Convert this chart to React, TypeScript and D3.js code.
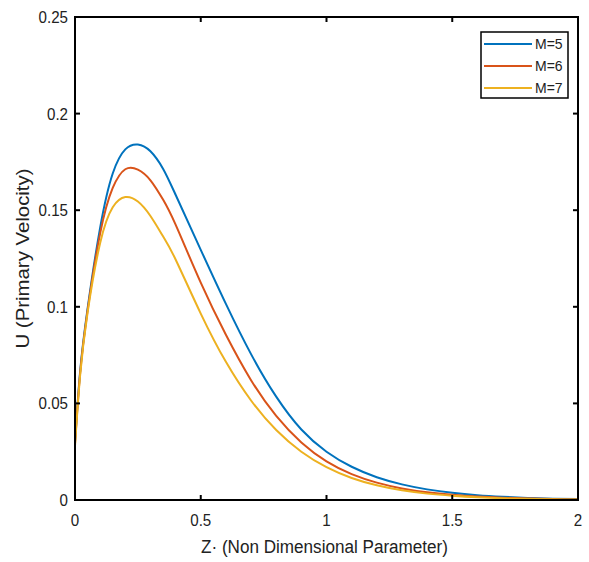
import React from "react";
import * as d3 from "d3";

const zValues = [0, 0.02, 0.05, 0.1, 0.15, 0.2, 0.25, 0.3, 0.35, 0.4, 0.5, 0.6, 0.7, 0.8, 0.9, 1.0, 1.1, 1.2, 1.3, 1.4, 1.5, 1.6, 1.7, 1.8, 1.9, 2.0];
const uM5 = [0.030, 0.066, 0.099, 0.141, 0.169, 0.1815, 0.184, 0.1805, 0.1715, 0.158, 0.1295, 0.1015, 0.0755, 0.0535, 0.0365, 0.025, 0.0172, 0.0118, 0.0081, 0.0055, 0.0037, 0.0025, 0.0017, 0.0011, 0.0007, 0.0005];
const uM6 = [0.029, 0.065, 0.098, 0.138, 0.1615, 0.1712, 0.171, 0.1655, 0.1555, 0.1425, 0.1125, 0.0855, 0.062, 0.0435, 0.0298, 0.020, 0.0134, 0.009, 0.006, 0.004, 0.0027, 0.0018, 0.0012, 0.0008, 0.0005, 0.0003];
const uM7 = [0.028, 0.064, 0.097, 0.133, 0.1515, 0.1568, 0.1545, 0.147, 0.1365, 0.1245, 0.0965, 0.0715, 0.0515, 0.0362, 0.025, 0.017, 0.0114, 0.0076, 0.005, 0.0033, 0.0022, 0.0014, 0.0009, 0.0006, 0.0004, 0.0002];
const seriesNames = ["M=5", "M=6", "M=7"];
const seriesColors = ["#0072BD", "#D95319", "#EDB120"];
const xTicks = [0, 0.5, 1, 1.5, 2];
const yTicks = [0, 0.05, 0.1, 0.15, 0.2, 0.25];
const xLabel = "Z· (Non Dimensional Parameter)";
const yLabel = "U (Primary Velocity)";

export default function App() {
  const W = 589, H = 562;
  const left = 75, right = 578, top = 17, bottom = 500;
  const x = d3.scaleLinear().domain([0, 2]).range([left, right]);
  const y = d3.scaleLinear().domain([0, 0.25]).range([bottom, top]);
  const line = d3.line<[number, number]>().x(d => x(d[0])).y(d => y(d[1])).curve(d3.curveNatural);
  const series = [uM5, uM6, uM7];
  const font = "'Liberation Sans', Arial, sans-serif";
  const tickLen = 5;
  const sx = 0.89;
  return (
    <svg width={W} height={H} style={{ position: "absolute", left: 0, top: 0 }} fontFamily={font}>
      <rect width={W} height={H} fill="#fff" />
      {series.map((s, i) => (
        <path key={i} d={line(zValues.map((z, j) => [z, s[j]]) as [number, number][]) || ""} fill="none" stroke={seriesColors[i]} strokeWidth={2} />
      ))}
      <rect x={left} y={top} width={right - left} height={bottom - top} fill="none" stroke="#000" strokeWidth={2} />
      {xTicks.map(t => (
        <g key={"x" + t}>
          <line x1={x(t)} x2={x(t)} y1={bottom} y2={bottom - tickLen} stroke="#000" strokeWidth={2} />
          <line x1={x(t)} x2={x(t)} y1={top} y2={top + tickLen} stroke="#000" strokeWidth={2} />
          <text transform={`translate(${x(t)},526) scale(${sx},1)`} textAnchor="middle" fontSize={17} fill="#222">{String(t)}</text>
        </g>
      ))}
      {yTicks.map(t => (
        <g key={"y" + t}>
          <line x1={left} x2={left + tickLen} y1={y(t)} y2={y(t)} stroke="#000" strokeWidth={2} />
          <line x1={right} x2={right - tickLen} y1={y(t)} y2={y(t)} stroke="#000" strokeWidth={2} />
          <text transform={`translate(68,${y(t) + 6}) scale(${sx},1)`} textAnchor="end" fontSize={17} fill="#222">{String(t)}</text>
        </g>
      ))}
      <text transform={`translate(${(left + right) / 2 - 2},553) scale(0.9,1)`} textAnchor="middle" fontSize={19} fill="#222">{xLabel}</text>
      <text transform={`translate(29,${(top + bottom) / 2}) rotate(-90)`} textAnchor="middle" fontSize={18} textLength={180} lengthAdjust="spacingAndGlyphs" fill="#222">{yLabel}</text>
      <rect x={481} y={32} width={87} height={66} fill="#fff" stroke="#000" strokeWidth={1.5} />
      {seriesNames.map((n, i) => (
        <g key={n}>
          <line x1={484} x2={532} y1={44 + i * 22} y2={44 + i * 22} stroke={seriesColors[i]} strokeWidth={2} />
          <text x={535} y={49 + i * 22} fontSize={14} fill="#222">{n}</text>
        </g>
      ))}
    </svg>
  );
}
